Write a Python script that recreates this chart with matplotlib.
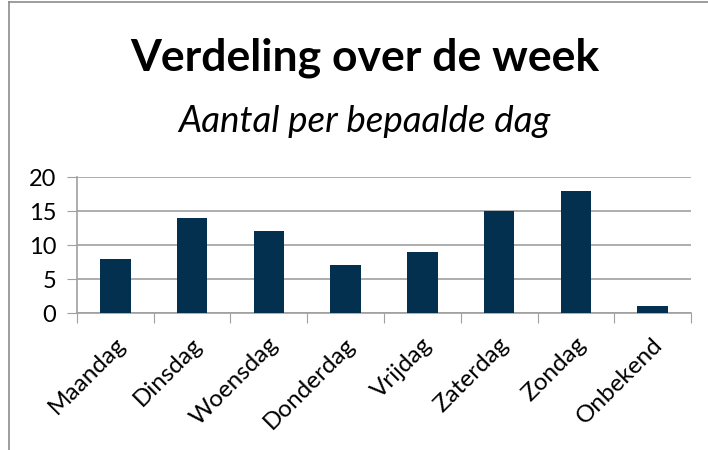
import matplotlib
matplotlib.use("Agg")
import matplotlib.pyplot as plt
import matplotlib.transforms as mtransforms
from matplotlib.lines import Line2D

DAYS = ["Maandag", "Dinsdag", "Woensdag", "Donderdag", "Vrijdag",
        "Zaterdag", "Zondag", "Onbekend"]
COUNTS = [8, 14, 12, 7, 9, 15, 18, 1]
YTICKS = [0, 5, 10, 15, 20]

BAR = "#03304f"
GRID = "#a0a0a0"

plt.rcParams.update({"font.family": ["Lato", "DejaVu Sans"]})

fig = plt.figure(figsize=(7.08, 4.5), dpi=100)
# outer chart frame: only left and top edges fall inside the picture
x0, ytop = 8.5 / 708, 1 - 2 / 450
fig.lines.append(Line2D([x0, x0], [0, ytop], transform=fig.transFigure,
                        color="#8c8c8c", lw=1.2))
fig.lines.append(Line2D([x0, 1], [ytop, ytop], transform=fig.transFigure,
                        color="#8c8c8c", lw=1.2))

fig.text(0.516, 1 - 58 / 450, "Verdeling over de week", ha="center",
         va="center", fontsize=32, fontweight="bold")
fig.text(0.515, 1 - 121 / 450, "Aantal per bepaalde dag", ha="center",
         va="center", fontsize=26.5, style="italic")

ax = fig.add_axes([77 / 708, 1 - 313 / 450, 614 / 708, 136 / 450])
x = range(len(DAYS))
ax.bar(x, COUNTS, width=0.4, color=BAR, zorder=3)
ax.set_xlim(-0.5, len(DAYS) - 0.5)
ax.set_ylim(0, 20)
ax.set_yticks(YTICKS)
ax.tick_params(axis="y", labelsize=17, length=7, color=GRID, pad=8)
ax.yaxis.grid(True, color=GRID, lw=1.2, zorder=0)

ax.set_xticks([i - 0.5 for i in range(len(DAYS) + 1)])
ax.set_xticklabels([])
ax.set_xticks(list(x), minor=True)
ax.set_xticklabels(DAYS, minor=True, rotation=45, ha="right",
                   rotation_mode="anchor", fontsize=17.5)
ax.tick_params(axis="x", which="major", length=7, color=GRID)
ax.tick_params(axis="x", which="minor", length=0, pad=15)
shift = mtransforms.ScaledTranslation(-1 / 100, 0, fig.dpi_scale_trans)
for lab in ax.get_xticklabels(minor=True):
    lab.set_transform(lab.get_transform() + shift)

for s in ["top", "right"]:
    ax.spines[s].set_visible(False)
for s in ["left", "bottom"]:
    ax.spines[s].set_color(GRID)
    ax.spines[s].set_linewidth(1.2)

fig.savefig("out.png", dpi=100)
